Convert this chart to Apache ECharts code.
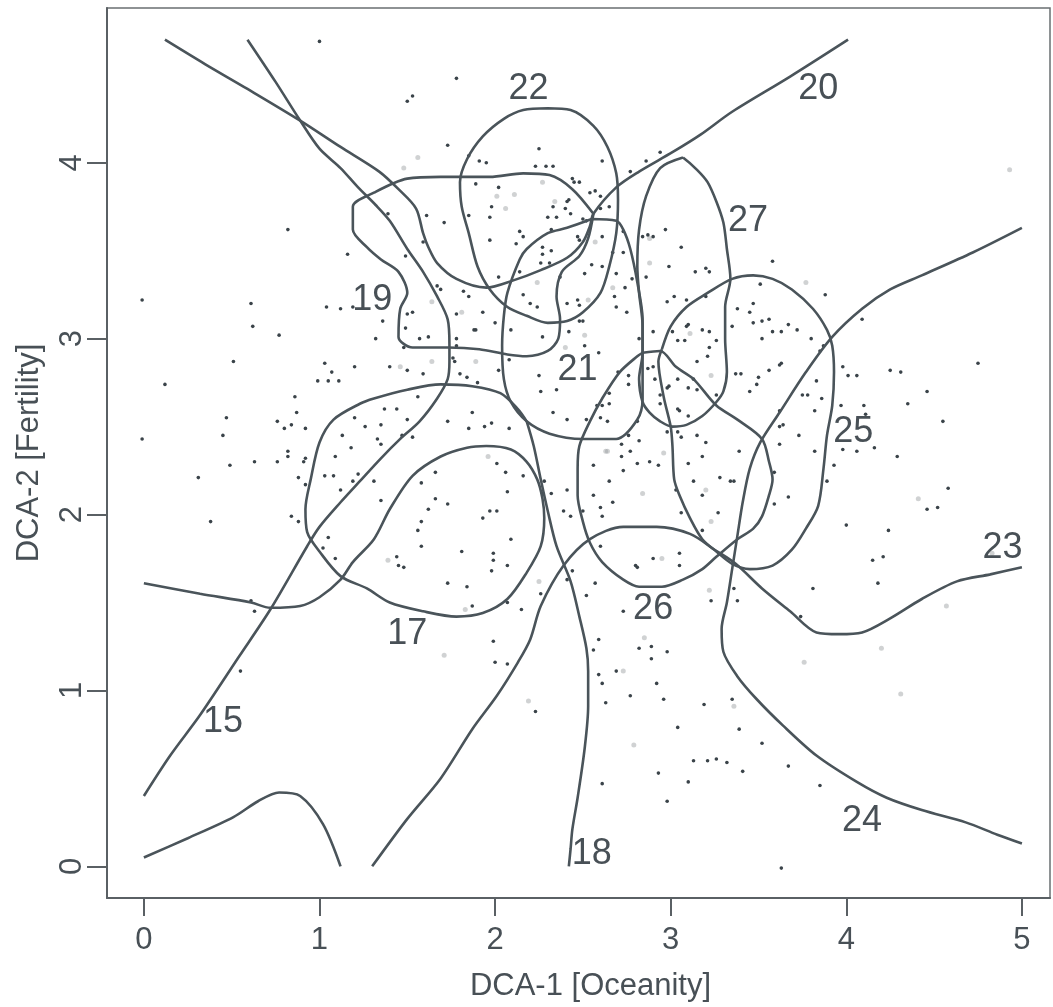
<!DOCTYPE html>
<html>
<head>
<meta charset="utf-8">
<script src="https://cdn.jsdelivr.net/npm/echarts@6/dist/echarts.min.js"></script>
<style>
html,body{margin:0;padding:0;background:#ffffff;}
#chart{width:1053px;height:1007px;}
</style>
</head>
<body>
<div id="chart"></div>
<script>
// ---- axis ticks ----
const xTicks = [0, 1, 2, 3, 4, 5];
const yTicks = [0, 1, 2, 3, 4];

// ---- contour / boundary lines (DCA-1, DCA-2) ----
const curve15 = [[0.59,4.70],[0.75,4.46],[0.89,4.24],[1.00,4.08],[1.12,3.97],[1.22,3.86],[1.32,3.76],[1.40,3.67],[1.50,3.51],[1.59,3.38],[1.67,3.24],[1.73,3.11],[1.74,2.97],[1.74,2.87],[1.73,2.77],[1.67,2.66],[1.57,2.53],[1.46,2.43],[1.35,2.32],[1.23,2.19],[1.12,2.07],[1.00,1.93],[0.93,1.82],[0.72,1.46],[0.54,1.19],[0.32,0.86],[0.15,0.63],[0.00,0.40]];
const curve17 = [[0.00,1.61],[0.32,1.55],[0.61,1.50],[0.72,1.47],[0.89,1.48],[1.00,1.53],[1.12,1.63],[1.19,1.73],[1.31,1.86],[1.40,2.03],[1.53,2.22],[1.69,2.33],[1.84,2.38],[1.95,2.39],[2.09,2.37],[2.18,2.30],[2.24,2.20],[2.27,2.09],[2.28,1.98],[2.26,1.82],[2.18,1.67],[2.07,1.52],[1.93,1.44],[1.78,1.42],[1.59,1.45],[1.40,1.50],[1.27,1.58],[1.12,1.65],[1.00,1.79],[0.93,1.90],[0.92,2.03],[0.95,2.20],[1.00,2.41],[1.08,2.54],[1.23,2.63],[1.31,2.66],[1.50,2.71],[1.69,2.74],[1.87,2.73],[2.03,2.69],[2.13,2.60],[2.18,2.53]];
const curve18 = [[2.18,2.53],[2.22,2.39],[2.26,2.20],[2.30,2.02],[2.35,1.82],[2.43,1.62],[2.48,1.42],[2.52,1.24],[2.53,1.11],[2.53,0.91],[2.51,0.67],[2.47,0.39],[2.44,0.21],[2.43,0.10],[2.42,0.00]];
const curve19 = [[2.56,3.71],[2.44,3.85],[2.31,3.93],[2.16,3.94],[1.97,3.92],[1.69,3.92],[1.50,3.91],[1.31,3.83],[1.19,3.75],[1.19,3.62],[1.27,3.52],[1.35,3.45],[1.45,3.38],[1.50,3.26],[1.46,3.17],[1.45,3.01],[1.53,2.95],[1.73,2.95],[1.91,2.94],[2.07,2.91],[2.18,2.90],[2.30,2.93],[2.36,3.00],[2.37,3.11],[2.35,3.24],[2.38,3.38],[2.48,3.47],[2.53,3.57],[2.56,3.71]];
const curve20 = [[0.12,4.70],[0.35,4.56],[0.59,4.42],[0.89,4.24],[1.12,4.09],[1.34,3.95],[1.45,3.85],[1.55,3.74],[1.59,3.60],[1.62,3.52],[1.67,3.43],[1.78,3.34],[1.95,3.29],[2.10,3.33],[2.26,3.39],[2.41,3.46],[2.50,3.55],[2.54,3.64],[2.56,3.71],[2.69,3.86],[2.82,3.95],[3.01,4.06],[3.17,4.16],[3.35,4.29],[3.68,4.49],[4.01,4.70]];
const curve21 = [[2.55,3.68],[2.69,3.67],[2.73,3.62],[2.77,3.51],[2.81,3.32],[2.84,3.11],[2.84,2.94],[2.84,2.77],[2.84,2.66],[2.81,2.54],[2.69,2.43],[2.50,2.43],[2.31,2.46],[2.18,2.53],[2.09,2.64],[2.05,2.77],[2.04,2.96],[2.05,3.13],[2.07,3.26],[2.14,3.45],[2.18,3.51],[2.30,3.60],[2.41,3.63],[2.55,3.68]];
const curve22 = [[2.30,4.31],[2.43,4.30],[2.56,4.21],[2.64,4.09],[2.69,3.94],[2.70,3.79],[2.69,3.60],[2.65,3.41],[2.60,3.26],[2.50,3.15],[2.41,3.10],[2.30,3.09],[2.18,3.13],[2.07,3.18],[1.97,3.28],[1.90,3.41],[1.85,3.60],[1.81,3.75],[1.80,3.89],[1.84,4.02],[1.93,4.15],[2.05,4.25],[2.16,4.30],[2.30,4.31]];
const curve23 = [[1.30,0.00],[1.50,0.27],[1.69,0.50],[1.87,0.78],[2.01,0.97],[2.13,1.16],[2.20,1.29],[2.26,1.48],[2.39,1.71],[2.54,1.86],[2.73,1.93],[2.92,1.93],[3.11,1.89],[3.25,1.80],[3.37,1.72],[3.52,1.58],[3.68,1.45],[3.83,1.33],[3.96,1.32],[4.09,1.33],[4.25,1.41],[4.43,1.52],[4.63,1.62],[4.82,1.66],[5.00,1.70]];
const curve24 = [[5.00,3.63],[4.72,3.49],[4.43,3.36],[4.25,3.28],[4.09,3.17],[3.92,3.01],[3.77,2.81],[3.62,2.58],[3.51,2.41],[3.45,2.26],[3.41,2.07],[3.38,1.88],[3.35,1.69],[3.32,1.50],[3.29,1.35],[3.30,1.22],[3.38,1.08],[3.49,0.95],[3.64,0.80],[3.83,0.63],[4.06,0.48],[4.23,0.39],[4.43,0.32],[4.68,0.25],[4.86,0.18],[5.00,0.13]];
const curve25 = [[2.95,2.94],[3.00,3.07],[3.09,3.18],[3.21,3.26],[3.35,3.34],[3.47,3.36],[3.58,3.34],[3.69,3.28],[3.81,3.17],[3.89,3.05],[3.92,2.96],[3.93,2.81],[3.92,2.62],[3.89,2.45],[3.87,2.26],[3.84,2.05],[3.77,1.92],[3.69,1.80],[3.58,1.71],[3.45,1.69],[3.35,1.72],[3.26,1.79],[3.18,1.86],[3.11,1.98],[3.05,2.11],[3.02,2.20],[3.01,2.39],[3.00,2.50],[2.96,2.67],[2.93,2.87],[2.95,2.94]];
const curve26 = [[2.84,2.92],[2.94,2.93],[3.03,2.84],[3.13,2.77],[3.26,2.62],[3.38,2.54],[3.52,2.43],[3.56,2.30],[3.58,2.20],[3.56,2.11],[3.52,1.99],[3.47,1.92],[3.38,1.86],[3.26,1.76],[3.18,1.69],[3.07,1.63],[2.95,1.59],[2.82,1.59],[2.73,1.63],[2.61,1.73],[2.54,1.84],[2.50,1.96],[2.47,2.11],[2.47,2.26],[2.48,2.39],[2.54,2.53],[2.61,2.66],[2.71,2.81],[2.81,2.90],[2.84,2.92]];
const curve27 = [[3.07,4.03],[2.94,3.97],[2.86,3.81],[2.82,3.62],[2.81,3.41],[2.82,3.26],[2.84,3.07],[2.84,2.92],[2.82,2.77],[2.84,2.64],[2.88,2.58],[2.94,2.53],[3.01,2.50],[3.09,2.51],[3.18,2.56],[3.26,2.64],[3.30,2.70],[3.32,2.81],[3.31,3.00],[3.31,3.18],[3.34,3.34],[3.32,3.51],[3.30,3.66],[3.26,3.78],[3.21,3.89],[3.15,3.96],[3.07,4.03]];
const curveLow = [[0.00,0.05],[0.25,0.16],[0.51,0.28],[0.65,0.37],[0.77,0.42],[0.89,0.40],[1.02,0.24],[1.12,0.00]];

// ---- line labels ----
const labelText = ['15','17','18','19','20','21','22','23','24','25','26','27'];
const labelX = [0.45, 1.50, 2.55, 1.30, 3.84, 2.47, 2.19, 4.89, 4.09, 4.04, 2.90, 3.44];
const labelY = [0.82, 1.32, 0.07, 3.22, 4.42, 2.82, 4.42, 1.81, 0.26, 2.47, 1.46, 3.67];

// ---- plot sites (dark dots) ----
const darkDots = [[1.00,4.69],[1.78,4.48],[1.53,4.38],[1.50,4.35],[1.73,4.10],[1.85,4.04],[1.91,4.01],[1.95,4.00],[-0.01,3.22],[0.61,3.20],[0.82,3.62],[1.16,3.48],[1.04,3.18],[1.12,3.17],[1.19,3.18],[0.62,3.07],[0.77,3.02],[0.51,2.87],[0.12,2.74],[1.03,2.86],[1.07,2.81],[0.99,2.76],[1.05,2.76],[1.11,2.76],[1.20,2.84],[0.86,2.67],[0.87,2.58],[0.76,2.53],[0.80,2.49],[0.84,2.51],[0.92,2.49],[0.47,2.55],[0.45,2.45],[-0.01,2.43],[0.49,2.28],[0.63,2.30],[0.76,2.30],[0.82,2.36],[0.82,2.33],[0.91,2.30],[0.92,2.32],[1.09,2.33],[1.03,2.22],[1.08,2.22],[1.13,2.45],[1.18,2.38],[0.31,2.21],[0.88,2.21],[0.92,2.17],[1.12,2.14],[1.19,2.19],[0.38,1.96],[0.84,1.99],[0.88,1.96],[1.05,1.87],[1.02,1.81],[1.09,1.75],[0.63,1.45],[0.61,1.51],[0.55,1.11],
[2.23,3.98],[2.29,3.98],[2.33,3.98],[2.25,4.08],[2.61,4.01],[2.94,4.06],[2.86,4.01],[2.77,3.95],[2.48,3.89],[2.44,3.91],[2.54,3.83],[2.57,3.84],[2.60,3.81],[2.60,3.74],[2.65,3.75],[1.89,3.88],[2.02,3.86],[1.98,3.75],[2.42,3.79],[2.33,3.75],[2.40,3.74],[2.43,3.71],[2.35,3.69],[2.30,3.69],[1.97,3.69],[1.85,3.70],[1.61,3.70],[1.71,3.66],[1.39,3.71],[2.52,3.67],[2.48,3.56],[2.61,3.58],[2.32,3.62],[2.16,3.58],[2.14,3.61],[1.97,3.56],[2.12,3.54],[2.27,3.52],[2.32,3.50],[2.27,3.48],[2.26,3.43],[2.31,3.43],[2.55,3.42],[2.61,3.41],[2.69,3.37],[2.51,3.37],[2.37,3.35],[2.14,3.38],[2.02,3.35],[2.68,3.24],[2.74,3.29],[2.73,3.49],[2.75,3.15],[2.69,3.18],[2.48,3.10],[2.48,3.19],[2.16,3.25],[2.20,3.20],[2.24,3.18],[2.00,3.09],[2.09,3.05],[1.93,3.15],[1.88,3.05],[1.78,3.14],[1.85,3.24],[1.82,3.27],[1.69,3.28],[1.67,3.30],[1.53,3.15],[1.50,3.14],[1.49,3.06],[1.36,3.10],[1.49,3.47],[1.59,3.55],[1.57,3.00],[1.62,3.01],[1.78,3.00],[1.78,2.96],[1.89,3.05],[1.77,2.87],[2.08,2.88],[2.27,3.01],[2.42,3.04],[2.51,2.96],[2.59,2.92],[2.82,3.00],[2.90,3.04],[2.87,3.59],[2.86,3.35],
[1.40,2.84],[1.32,3.00],[1.48,2.95],[1.59,2.80],[1.80,2.80],[1.84,2.78],[1.90,2.75],[2.02,2.82],[2.25,2.79],[2.35,2.71],[2.26,2.70],[2.33,2.58],[2.41,2.54],[2.58,2.62],[2.70,2.81],[2.76,2.74],[1.76,2.89],
[2.45,3.89],[2.41,3.78],[2.50,3.68],[2.47,3.58],[2.67,3.49],[2.73,3.61],[2.78,3.34],[2.41,3.20],[2.47,3.22],[2.50,3.10],[2.90,3.58],[2.84,3.58],[2.97,3.62],[3.06,3.52],[2.99,3.41],[3.14,3.38],[3.20,3.40],[3.22,3.38],[3.02,3.24],[2.98,3.21],[3.09,3.22],[3.04,2.99],[3.08,2.99],[3.10,3.08],[3.18,3.05],[3.22,3.04],[3.26,2.99],[3.21,2.90],[3.15,2.87],[3.13,2.77],[3.10,2.72],[3.04,2.77],[2.99,2.73],[2.91,2.77],[2.94,2.63],[3.10,2.56],[3.05,2.59],[3.26,2.68],[3.38,3.17],[3.45,3.15],[3.47,3.09],[3.52,3.10],[3.56,3.11],[3.52,3.00],[3.63,3.04],[3.58,3.04],[3.67,3.08],[3.72,3.05],[3.62,2.85],[3.56,2.82],[3.40,2.80],[3.50,2.78],[3.49,2.74],[3.45,2.70],[3.75,2.68],[3.78,2.68],[3.82,2.59],[3.58,3.44],[3.51,3.31],[3.88,3.25],[3.98,2.84],[4.01,2.79],[4.06,2.79],[3.97,2.62],[3.62,2.50],[3.73,2.45],[3.39,2.36],[3.20,2.41],[3.04,2.47],[2.77,2.36],[2.72,2.40],[2.61,2.62],[2.65,2.63],[2.52,2.54],[2.76,2.79],[2.65,2.69],
[3.47,3.20],[3.20,3.24],[3.35,3.07],[4.09,3.11],[3.22,2.95],[3.37,2.80],[3.63,2.86],[3.80,3.00],[3.85,2.93],[3.87,2.96],[3.83,2.76],[3.86,2.66],[3.62,2.59],[3.64,2.51],[3.15,2.45],[3.62,2.40],[3.18,2.33],[3.28,2.21],[3.34,2.19],[3.36,2.19],[3.59,2.24],[3.67,2.10],[3.82,2.36],[3.89,2.19],[3.93,2.28],[4.10,2.62],[4.11,2.57],[3.98,2.37],[4.06,2.36],[4.16,2.38],[4.25,2.82],[4.31,2.81],[4.35,2.63],[4.46,2.70],[4.55,2.53],[4.29,2.33],[4.75,2.86],[4.58,2.15],[4.46,2.03],[4.52,2.04],[4.00,1.94],[4.24,1.91],[4.15,1.74],[4.21,1.76],[4.18,1.61],[3.81,1.58],[3.74,1.42],[3.59,2.06],[3.27,2.01],[3.18,2.11],[3.18,1.91],[3.36,1.58],[3.38,1.51],
[1.50,2.82],[3.09,3.07],[3.01,3.04],[2.87,2.83],[2.90,2.84],[2.98,2.72],[2.94,2.68],[3.04,2.60],[3.15,2.71],[3.10,2.29],[3.06,2.44],[2.98,2.47],[2.81,2.53],[2.76,2.45],[2.64,2.53],[2.60,2.55],[1.20,2.55],[1.26,2.50],[1.35,2.51],[1.37,2.60],[1.44,2.60],[1.50,2.54],[1.56,2.67],[1.73,2.53],[1.85,2.49],[1.94,2.50],[1.98,2.52],[1.87,2.58],[2.08,2.49],[1.33,2.43],[1.35,2.40],[1.47,2.45],[1.53,2.44],[1.31,2.19],[1.22,2.23],[1.35,2.08],[1.66,2.24],[1.58,2.18],[2.06,2.24],[2.07,2.13],[2.16,2.22],[2.28,2.19],[2.32,2.12],[2.41,2.14],[2.39,2.02],[2.43,1.99],[1.73,2.06],[1.66,2.09],[1.62,2.03],[1.58,1.96],[1.56,1.91],[1.58,1.82],[1.93,1.98],[1.97,2.02],[2.01,2.02],[2.09,1.86],[1.99,1.78],[1.99,1.74],[1.98,1.68],[2.07,1.71],[1.81,1.79],[1.73,1.61],[1.84,1.59],[1.44,1.76],[1.45,1.71],[1.48,1.70],[2.26,1.55],[2.15,1.46],[2.07,1.50],[1.99,1.28],[2.44,1.68],[2.52,1.54],[2.57,1.61],[2.73,1.45],[2.60,1.82],[2.80,1.71],[2.90,1.75],[3.05,1.71],[3.05,1.78],[2.56,2.28],[2.72,2.33],[2.81,2.29],[2.93,2.28],[2.88,2.30],[2.73,2.25],[2.65,2.19],[2.56,2.11],[2.60,2.04],[2.67,2.07],[2.61,1.99],[2.50,2.02],[3.06,2.01],[3.13,2.19],[2.82,2.42],[3.03,2.14],[2.81,1.70],[2.89,1.25],[2.41,1.63],[3.23,1.51],[2.27,2.12],[2.01,2.29],[1.87,1.48],[2.59,1.29],
[2.00,1.16],[2.07,1.15],[2.23,0.88],[2.56,1.23],[2.59,1.09],[2.61,1.04],[2.63,0.93],[2.69,1.11],[2.77,0.97],[2.82,1.24],[2.89,1.18],[2.98,1.22],[2.92,1.04],[2.96,0.95],[3.04,0.79],[2.93,0.53],[3.10,0.48],[3.13,0.60],[2.98,0.37],[2.61,0.47],[3.19,0.92],[3.35,0.95],[3.39,0.78],[3.52,0.70],[3.21,0.60],[3.26,0.61],[3.32,0.59],[3.41,0.54],[3.67,0.57],[3.85,0.46],[3.63,-0.01]];

// ---- faint (grey) plot sites ----
const faintDots = [[1.56,4.03],[1.48,3.97],[2.01,3.81],[2.11,3.82],[2.06,3.74],[2.34,3.78],[2.27,3.89],[2.57,3.55],[2.24,3.32],[2.53,3.22],[2.67,3.29],[1.64,3.21],[1.81,3.15],[2.51,3.02],[2.40,2.95],[1.89,2.87],[1.46,2.84],[1.64,2.87],[1.96,2.33],[2.84,2.12],[2.63,2.36],[2.96,2.35],[2.95,1.75],[3.20,2.14],[3.23,1.96],[3.22,1.57],[2.85,1.30],[2.19,0.94],[1.71,1.20],[2.73,1.11],[2.79,0.69],[1.39,1.74],[1.83,1.46],[2.25,1.62],[4.41,2.09],[4.57,1.48],[4.83,1.78],[4.93,3.96],[4.20,1.24],[4.31,0.98],[3.76,1.16],[2.88,3.57],[2.88,3.43],[3.11,3.03],[3.23,2.79],[3.77,3.32],[2.64,2.36],[3.36,0.91]];

const LINE = '#4a545a';
const TEXT = '#485056';
const FONT = "'Liberation Sans', Arial, Helvetica, sans-serif";

const curves = [curve15, curve17, curve18, curve19, curve20, curve21, curve22, curve23, curve24, curve25, curve26, curve27, curveLow];

const series = [];
series.push({
  type: 'scatter', data: faintDots, symbolSize: 5, silent: true, z: 1,
  itemStyle: { color: 'rgba(150,155,158,0.45)', opacity: 1 }
});
series.push({
  type: 'scatter', data: darkDots, symbolSize: 3.6, silent: true, z: 2,
  itemStyle: { color: '#3a4349', opacity: 1 }
});
curves.forEach(function (c) {
  series.push({
    type: 'line', data: c, showSymbol: false, symbol: 'none', smooth: 0.3,
    silent: true, z: 3, clip: true,
    lineStyle: { color: LINE, width: 2.6 }
  });
});
series.push({
  type: 'scatter', silent: true, z: 4, symbolSize: 1,
  itemStyle: { color: 'rgba(0,0,0,0)', opacity: 1 },
  data: labelText.map(function (t, i) { return { name: t, value: [labelX[i], labelY[i]] }; }),
  label: {
    show: true, position: 'inside', formatter: '{b}', opacity: 1,
    fontSize: 36, color: TEXT, fontFamily: FONT, textBorderWidth: 0
  }
});

const chart = echarts.init(document.getElementById('chart'), null, { renderer: 'canvas' });
chart.setOption({
  animation: false,
  backgroundColor: '#ffffff',
  grid: {
    left: 107, right: 3, top: 8, bottom: 107,
    show: true, borderColor: '#6a6f72', borderWidth: 1.5, backgroundColor: 'transparent'
  },
  xAxis: {
    type: 'value', min: -0.21, max: 5.16,
    axisLine: { show: true, onZero: false, lineStyle: { color: '#5a6064', width: 2 } },
    axisTick: { show: true, customValues: xTicks, length: 18, lineStyle: { color: '#5a6064', width: 2 } },
    axisLabel: { show: true, customValues: xTicks, fontSize: 31, color: TEXT, margin: 27, fontFamily: FONT },
    splitLine: { show: false },
    name: 'DCA-1 [Oceanity]', nameLocation: 'middle', nameGap: 73,
    nameTextStyle: { fontSize: 31, color: TEXT, fontFamily: FONT, padding: [0, 0, 0, 24] }
  },
  yAxis: {
    type: 'value', min: -0.18, max: 4.88,
    axisLine: { show: true, onZero: false, lineStyle: { color: '#5a6064', width: 2 } },
    axisTick: { show: true, customValues: yTicks, length: 20, lineStyle: { color: '#5a6064', width: 2 } },
    axisLabel: { show: true, customValues: yTicks, rotate: 90, fontSize: 31, color: TEXT, margin: 19, fontFamily: FONT },
    splitLine: { show: false },
    name: 'DCA-2 [Fertility]', nameLocation: 'middle', nameGap: 62,
    nameTextStyle: { fontSize: 31, color: TEXT, fontFamily: FONT }
  },
  series: series
});
</script>
</body>
</html>
